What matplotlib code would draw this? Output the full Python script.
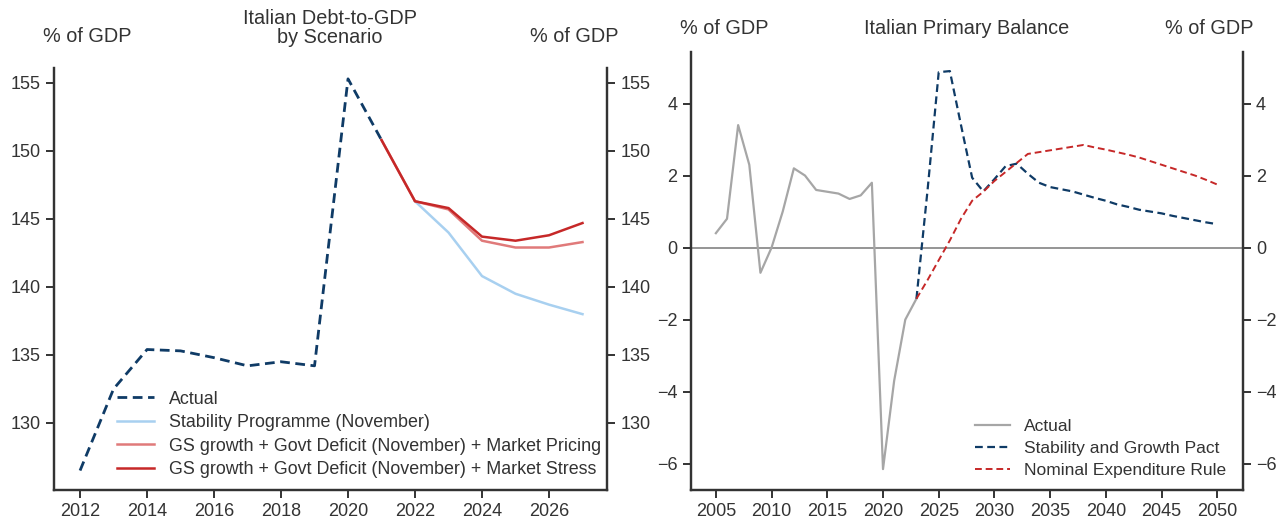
import matplotlib.pyplot as plt

plt.rcParams['font.family'] = ['Liberation Sans', 'DejaVu Sans']
plt.rcParams['font.size'] = 13

# left panel: Italian debt-to-GDP (% of GDP)
debt_years = [2012, 2013, 2014, 2015, 2016, 2017, 2018, 2019, 2020, 2021]
debt_actual = [126.5, 132.5, 135.4, 135.3, 134.8, 134.2, 134.5, 134.2, 155.3, 150.8]
sp_years = [2022, 2023, 2024, 2025, 2026, 2027]
sp_debt = [146.3, 144.0, 140.8, 139.5, 138.7, 138.0]
scen_years = [2021, 2022, 2023, 2024, 2025, 2026, 2027]
pricing_debt = [150.8, 146.3, 145.7, 143.4, 142.9, 142.9, 143.3]
stress_debt = [150.8, 146.3, 145.8, 143.7, 143.4, 143.8, 144.7]

# right panel: Italian primary balance (% of GDP)
pb_years = list(range(2005, 2024))
pb_actual = [0.4, 0.8, 3.4, 2.3, -0.7, 0.0, 1.0, 2.2, 2.0, 1.6, 1.55, 1.5,
             1.35, 1.45, 1.8, -6.15, -3.7, -2.0, -1.42]
proj_years = list(range(2023, 2051))
sgp = [-1.42, 1.6, 4.87, 4.9, 3.4, 1.94, 1.56, 1.9, 2.26, 2.33, 2.05, 1.8,
       1.68, 1.62, 1.56, 1.47, 1.38, 1.3, 1.2, 1.13, 1.05, 1.0, 0.95, 0.88,
       0.82, 0.76, 0.7, 0.65]
ner = [-1.42, -0.9, -0.35, 0.2, 0.8, 1.3, 1.55, 1.85, 2.1, 2.35, 2.6, 2.65,
       2.7, 2.75, 2.8, 2.85, 2.78, 2.72, 2.65, 2.58, 2.5, 2.4, 2.3, 2.2,
       2.1, 2.0, 1.88, 1.75]

navy = '#0f3b66'
light_blue = '#a8d0f0'
pink = '#e07a7a'
red = '#c62828'
grey = '#a6a6a6'
txt = '#333333'


def style(ax, twin):
    for a in (ax, twin):
        a.spines['top'].set_visible(False)
        for s in ('left', 'right', 'bottom'):
            a.spines[s].set_color('#333333')
            a.spines[s].set_linewidth(1.6)
        a.tick_params(direction='out', length=6, width=1.4, colors='#333333',
                      labelcolor=txt, labelsize=13)


fig = plt.figure(figsize=(12.84, 5.21), dpi=100)

# ---- left chart
ax1 = fig.add_axes([0.042, 0.0595, 0.4307, 0.81])
ax1.plot(debt_years, debt_actual, color=navy, lw=2, ls=(0, (3.5, 2)), label='Actual')
ax1.plot(sp_years, sp_debt, color=light_blue, lw=1.8, label='Stability Programme (November)')
ax1.plot(scen_years, pricing_debt, color=pink, lw=1.8,
         label='GS growth + Govt Deficit (November) + Market Pricing')
ax1.plot(scen_years, stress_debt, color=red, lw=1.8,
         label='GS growth + Govt Deficit (November) + Market Stress')
ax1.set_xlim(2011.22, 2027.73)
ax1.set_ylim(125.07, 156.1)
ax1.set_xticks(range(2012, 2027, 2))
ax1.set_yticks(range(130, 156, 5))
t1 = ax1.twinx()
t1.set_ylim(ax1.get_ylim())
t1.set_yticks(range(130, 156, 5))
style(ax1, t1)
ax1.legend(loc='lower left', bbox_to_anchor=(0.085, -0.01), frameon=False, fontsize=12.9,
           handlelength=2.05, handletextpad=0.85, labelspacing=0.36, labelcolor=txt)
fig.text(0.0335, 0.929, '% of GDP', fontsize=14.3, color=txt, ha='left', va='center')
fig.text(0.4815, 0.929, '% of GDP', fontsize=14.3, color=txt, ha='right', va='center')
fig.text(0.257, 0.947, 'Italian Debt-to-GDP\nby Scenario', fontsize=14.3, color=txt,
         ha='center', va='center', linespacing=1.0)

# ---- right chart
ax2 = fig.add_axes([0.538, 0.0595, 0.430, 0.840])
ax2.axhline(0, color='#8c8c8c', lw=1.3, zorder=1)
ax2.plot(pb_years, pb_actual, color=grey, lw=1.6, label='Actual')
ax2.plot(proj_years, sgp, color=navy, lw=1.6, ls=(0, (3.5, 2)), label='Stability and Growth Pact')
ax2.plot(proj_years, ner, color=red, lw=1.4, ls=(0, (3.5, 2)), label='Nominal Expenditure Rule')
ax2.set_xlim(2002.75, 2052.3)
ax2.set_ylim(-6.73, 5.42)
ax2.set_xticks(range(2005, 2051, 5))
ax2.set_yticks([-6, -4, -2, 0, 2, 4])
t2 = ax2.twinx()
t2.set_ylim(ax2.get_ylim())
t2.set_yticks([-6, -4, -2, 0, 2, 4])
style(ax2, t2)
ax2.legend(loc='lower right', bbox_to_anchor=(0.998, -0.008), frameon=False, fontsize=12.5,
           handlelength=2.0, handletextpad=0.8, labelspacing=0.4, labelcolor=txt)
fig.text(0.5295, 0.946, '% of GDP', fontsize=14.3, color=txt, ha='left', va='center')
fig.text(0.976, 0.946, '% of GDP', fontsize=14.3, color=txt, ha='right', va='center')
fig.text(0.753, 0.946, 'Italian Primary Balance', fontsize=14.3, color=txt,
         ha='center', va='center')

fig.savefig('out.png', dpi=100)
